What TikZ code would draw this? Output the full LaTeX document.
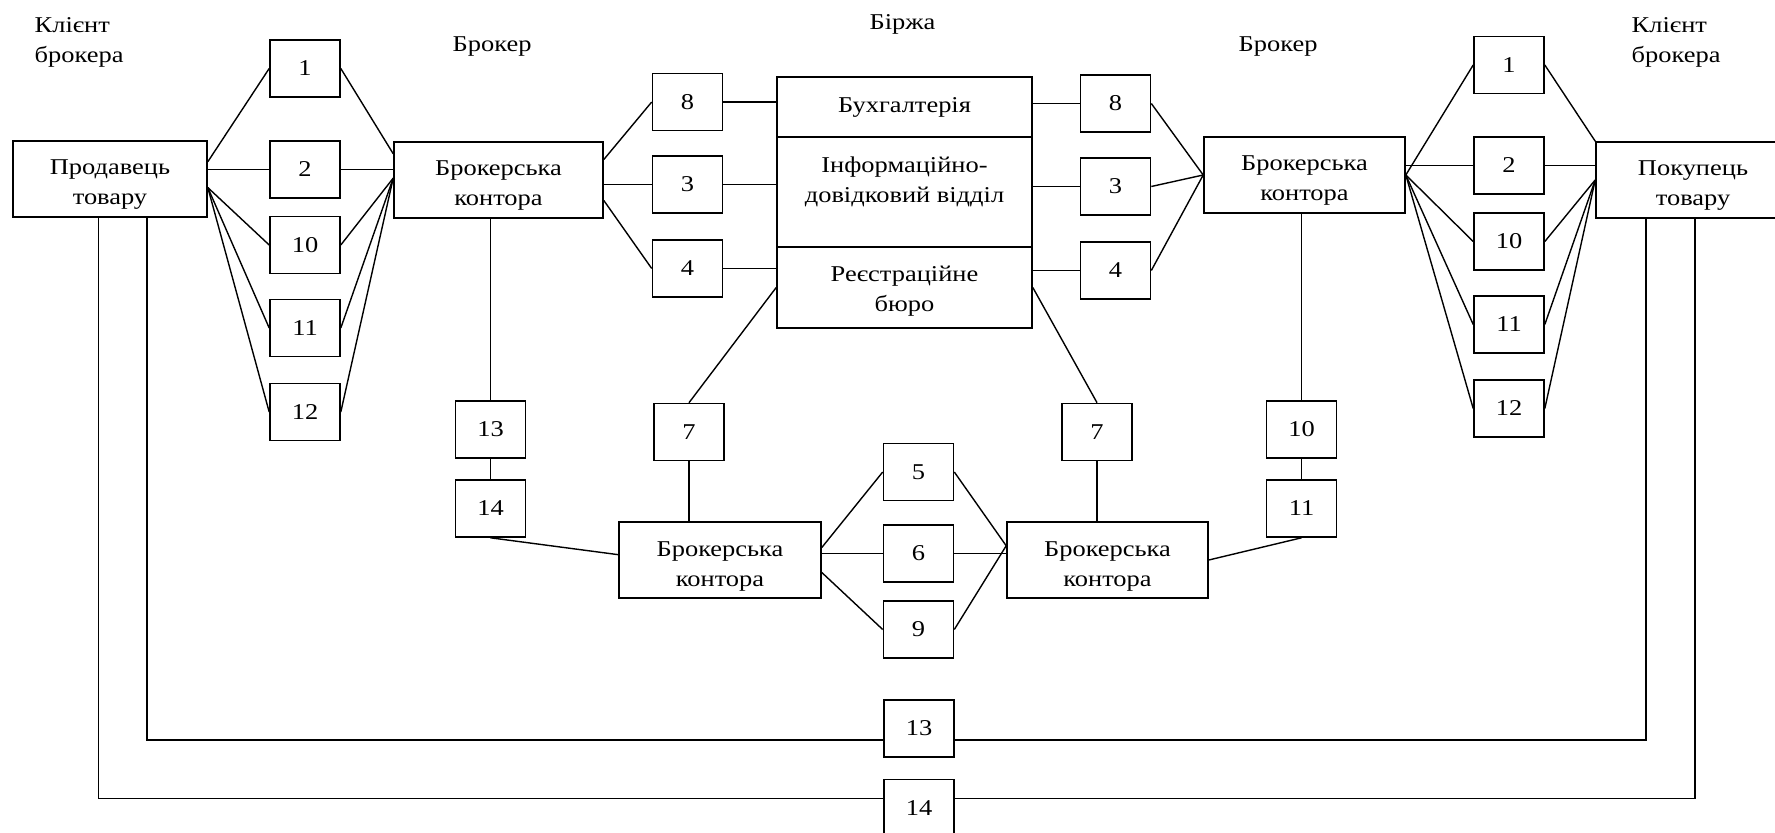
\documentclass[tikz,border=0pt]{standalone}
\usepackage{fontspec}
\setmainfont{Liberation Serif}[FakeStretch=1.17]

\begin{document}
\begin{tikzpicture}[x=0.5pt,y=-0.5pt,line width=0.7pt,
  font=\fontsize{11.3pt}{15pt}\selectfont,
  num/.style={draw, line width=0.8pt, minimum width=35pt, minimum height=28.5pt, inner sep=0pt},
  office/.style={draw, line width=0.8pt, minimum height=38pt, inner sep=0pt, align=center, text height=29pt, text depth=3pt},
  cell/.style={draw, line width=0.8pt, minimum width=127.5pt, inner sep=0pt, align=center},
  title/.style={inner sep=0pt, align=left}]
\useasboundingbox (0,0) rectangle (1775,833);
% titles
\node[title, anchor=north west] (kl) at (34,16.6) {Клієнт\\брокера};
\node[title, anchor=base west] (bkl) at (452,52) {Брокер};
\node[title, anchor=base west] (bir) at (869,30) {Біржа};
\node[title, anchor=base west] (bkr) at (1238,52) {Брокер};
\node[title, anchor=north west] (kr) at (1631,16.6) {Клієнт\\брокера};
% seller and his broker
\node[office, minimum width=97pt] (prod) at (110,179) {Продавець\\товару};
\node[num] (cl1) at (305,68.5) {1};
\node[num] (cl2) at (305,169.5) {2};
\node[num] (cl10) at (305,245) {10};
\node[num] (cl11) at (305,328) {11};
\node[num] (cl12) at (305,412) {12};
\node[office, minimum width=104.5pt] (brl) at (498.5,180) {Брокерська\\контора};
\draw (prod.10) -- (cl1.west);
\draw (cl2.west -| prod.east) -- (cl2.west);
\foreach \n in {10,11,12} \draw (prod.-5) -- (cl\n.west);
\draw (cl1.east) -- (brl.166);
\draw (cl2.east) -- (cl2.east -| brl.west);
\foreach \n in {10,11,12} \draw (cl\n.east) -- (brl.179);
% exchange
\node[num] (bl8) at (687.5,102) {8};
\node[num] (bl3) at (687.5,184.5) {3};
\node[num] (bl4) at (687.5,268.5) {4};
\node[cell, minimum height=30pt] (buh) at (904.5,107) {Бухгалтерія};
\node[cell, minimum height=55pt, text height=20pt, text depth=9pt] (info) at (904.5,192) {Інформаційно-\\довідковий відділ};
\node[cell, minimum height=40.5pt, text height=27.5pt, text depth=3pt] (reg) at (904.5,287.5) {Реєстраційне\\бюро};
\node[num] (br8) at (1115.5,103.5) {8};
\node[num] (br3) at (1115.5,186.5) {3};
\node[num] (br4) at (1115.5,270.5) {4};
\draw (brl.11) -- (bl8.west);
\draw (bl3.west -| brl.east) -- (bl3.west);
\draw (brl.-11) -- (bl4.west);
\draw (bl8.east) -- (bl8.east -| buh.west);
\draw (bl3.east) -- (bl3.east -| info.west);
\draw (bl4.east) -- (bl4.east -| reg.west);
\draw (br8.west -| buh.east) -- (br8.west);
\draw (br3.west -| info.east) -- (br3.west);
\draw (br4.west -| reg.east) -- (br4.west);
% buyer and his broker
\node[office, minimum width=100.5pt] (brr) at (1304.5,175) {Брокерська\\контора};
\node[num] (cr1) at (1509,65) {1};
\node[num] (cr2) at (1509,165.5) {2};
\node[num] (cr10) at (1509,241.5) {10};
\node[num] (cr11) at (1509,324.5) {11};
\node[num] (cr12) at (1509,408.5) {12};
\node[office, minimum width=97pt] (pok) at (1693,180) {Покупець\\товару};
\foreach \n in {8,3,4} \draw (br\n.east) -- (brr.west);
\draw (brr.east) -- (cr1.west);
\draw (cr2.west -| brr.east) -- (cr2.west);
\foreach \n in {10,11,12} \draw (brr.east) -- (cr\n.west);
\draw (cr1.east) -- (pok.north west);
\draw (cr2.east) -- (cr2.east -| pok.west);
\foreach \n in {10,11,12} \draw (cr\n.east) -- (pok.west);
% lower part
\node[num] (s13) at (490.5,429.5) {13};
\node[num] (s14) at (490.5,508.5) {14};
\node[num] (k7l) at (689,432) {7};
\node[office, minimum width=101pt] (bbl) at (720,560) {Брокерська\\контора};
\node[num] (k5) at (918.5,472) {5};
\node[num] (k6) at (918.5,553.5) {6};
\node[num] (k9) at (918.5,629.5) {9};
\node[office, minimum width=100.5pt] (bbr) at (1107.5,560) {Брокерська\\контора};
\node[num] (k7r) at (1097,432) {7};
\node[num] (s10) at (1301.5,429.5) {10};
\node[num] (s11) at (1301.5,508.5) {11};
\draw (s13.north |- brl.south) -- (s13.north);
\draw (s13) -- (s14);
\draw (s14.south) -- (bbl.177);
\draw (reg.west) -- (k7l.north);
\draw (k7l.south) -- (k7l.south |- bbl.north);
\draw (bbl.7) -- (k5.west);
\draw (k6.west -| bbl.east) -- (k6.west);
\draw (bbl.-7) -- (k9.west);
\draw (k5.east) -- (bbr.172);
\draw (k6.east) -- (k6.east -| bbr.west);
\draw (k9.east) -- (bbr.172);
\draw (reg.east) -- (k7r.north);
\draw (k7r.south) -- (k7r.south |- bbr.north);
\draw (bbr.east) -- (s11.south);
\draw (s10) -- (s11);
\draw (s10.north |- brr.south) -- (s10.north);
% direct links
\node[num] (d13) at (919,728.5) {13};
\node[num] (d14) at (919,808) {14};
\draw ([xshift=18.5pt]prod.south) |- ([yshift=-5.75pt]d13.west);
\draw ([yshift=-5.75pt]d13.east) -| ([xshift=-23.5pt]pok.south);
\draw ([xshift=-5.75pt]prod.south) |- ([yshift=4.75pt]d14.west);
\draw ([yshift=4.75pt]d14.east) -| ([xshift=1pt]pok.south);
\end{tikzpicture}
\end{document}
